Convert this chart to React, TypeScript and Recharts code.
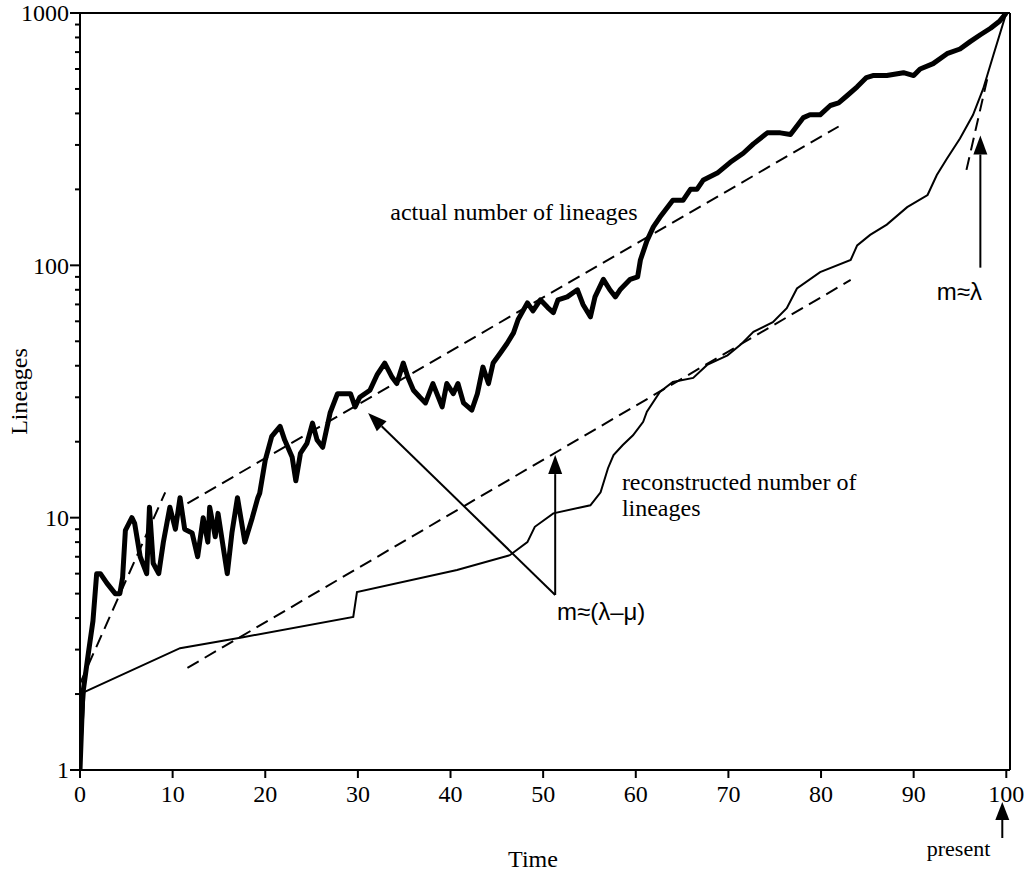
import { ComposedChart, Line, XAxis, YAxis, ReferenceLine, ReferenceDot } from 'recharts';

// Lineages-through-time: simulated tree (actual) vs reconstructed phylogeny.

const actualLineages: [number, number][] = [
  [0, 1], [0.3, 2], [0.9, 2.9], [1.4, 3.9], [1.8, 6], [2.2, 6], [2.9, 5.5], [3.8, 5],
  [4.3, 5], [4.6, 5.8], [4.9, 8.9], [5.6, 10], [5.9, 9.5], [6.5, 7], [7.2, 6], [7.5, 11],
  [7.9, 6.6], [8.5, 6], [9.0, 8], [9.7, 11], [10.3, 9], [10.8, 12], [11.3, 9], [12.1, 8.7],
  [12.7, 7], [13.3, 10], [13.8, 8], [14.0, 11], [14.6, 8.4], [14.9, 10.4], [15.9, 6],
  [16.4, 8.7], [17.0, 12], [17.8, 8], [18.6, 10], [19.2, 12], [19.4, 12.5], [20.0, 16.9],
  [20.7, 21], [21.6, 23], [22.1, 20.3], [22.9, 17.4], [23.3, 14], [23.8, 18], [24.5, 19.7],
  [25.1, 23.7], [25.6, 20.3], [26.2, 19], [27.0, 26], [27.8, 31], [29.2, 31], [29.7, 27.5],
  [30.2, 30], [31.3, 32], [32.1, 37], [32.9, 41], [33.7, 36], [34.2, 34], [34.9, 41],
  [35.4, 36], [36.0, 32], [36.7, 30], [37.3, 28.5], [38.1, 34], [39.1, 27.5], [39.6, 34],
  [40.3, 31], [40.8, 34], [41.4, 28.5], [42.3, 26.7], [42.9, 31], [43.5, 39.5], [44.1, 34],
  [44.6, 41], [45.4, 45], [46.1, 49], [46.8, 54], [47.3, 61], [48.3, 71], [48.9, 66],
  [49.7, 73], [50.5, 68], [51.1, 65], [51.6, 73], [52.6, 75], [53.7, 80], [54.3, 70],
  [55.1, 62.5], [55.6, 75], [56.5, 88], [57.2, 80], [57.8, 75], [58.3, 80], [59.4, 88],
  [60.2, 90], [60.5, 105], [61.2, 125], [61.9, 142], [62.6, 155], [64.0, 181], [65.1, 181],
  [65.9, 200], [66.6, 200], [67.3, 218], [68.8, 232], [70.2, 256], [71.6, 278], [72.7, 303],
  [74.2, 335], [75.6, 335], [76.7, 330], [78.1, 385], [78.8, 395], [79.9, 395], [81.0, 430],
  [81.9, 440], [82.8, 470], [83.9, 510], [84.9, 555], [85.6, 565], [87.1, 565], [88.9, 580],
  [90.0, 565], [90.7, 600], [92.1, 630], [93.6, 690], [95.0, 720], [96.1, 770], [97.2, 820],
  [98.3, 870], [99.3, 930], [100, 1000],
];

const reconstructedLineages: [number, number][] = [
  [0, 1], [0.5, 2.04], [10.8, 3.04], [17.6, 3.36], [29.5, 4.04], [29.9, 5.07], [40.7, 6.2],
  [46.4, 7.1], [48.3, 8], [49.1, 9.2], [51.1, 10.4], [55.1, 11.2], [56.2, 12.6], [57.0, 15.7],
  [57.6, 17.7], [58.6, 19.4], [59.7, 21.2], [60.8, 24], [61.2, 26.3], [62.6, 31.5], [64.0, 34.5],
  [66.2, 35.8], [67.7, 40.3], [69.9, 44], [71.3, 48.4], [72.7, 54.5], [74.8, 59.5], [76.3, 67.6],
  [77.4, 81], [79.9, 94], [83.2, 105], [83.9, 120], [85.3, 132], [87.1, 145], [89.3, 170],
  [91.5, 190], [92.5, 228], [93.6, 265], [95.0, 318], [96.4, 394], [97.5, 500], [98.6, 680],
  [100, 1000],
];

// fitted slopes (dashed)
const fitEarly: [number, number][] = [[0, 2.2], [9.2, 12.6]];
const fitActual: [number, number][] = [[11.6, 11.4], [81.9, 355]];
const fitReconstructed: [number, number][] = [[11.6, 2.54], [83.2, 87.5]];
const fitRecent: [number, number][] = [[95.7, 239], [98.0, 560]];

const xTicks = [0, 10, 20, 30, 40, 50, 60, 70, 80, 90, 100];
const yTicks = [1, 2, 3, 4, 5, 6, 7, 8, 9, 10, 20, 30, 40, 50, 60, 70, 80, 90,
  100, 200, 300, 400, 500, 600, 700, 800, 900, 1000];

const toRows = (pts: [number, number][]) => pts.map(([t, n]) => ({ t, n }));

const SERIF = '"Liberation Serif", "Times New Roman", serif';
const SANS = '"Liberation Sans", Arial, sans-serif';
const INK = '#000';

function YTick(props: any) {
  const { x, y, payload } = props;
  const v = payload.value as number;
  const major = Math.log10(v) % 1 === 0;
  return (
    <g>
      <line x1={x - (major ? 10 : 5)} y1={y} x2={x} y2={y} stroke={INK} strokeWidth={2} />
      {major && (
        <text x={x - 11} y={y} dy="0.35em" textAnchor="end" fontFamily={SERIF} fontSize={24} fill={INK}>
          {v}
        </text>
      )}
    </g>
  );
}

function XTick(props: any) {
  const { x, y, payload } = props;
  const v = payload.value as number;
  return (
    <g>
      <line x1={x} y1={y} x2={x} y2={y + 8} stroke={INK} strokeWidth={2} />
      <text x={x} y={y + 32} textAnchor="middle" fontFamily={SERIF} fontSize={24} fill={INK}>
        {v}
      </text>
      {v === 100 && (
        <g>
          <line x1={x - 4} y1={y + 48} x2={x - 4} y2={y + 68} stroke={INK} strokeWidth={2} />
          <polygon points={`${x - 4},${y + 32} ${x - 11},${y + 50} ${x + 3},${y + 50}`} fill={INK} />
          <text x={x - 16} y={y + 86} textAnchor="end" fontFamily={SERIF} fontSize={22} fill={INK}>
            present
          </text>
        </g>
      )}
    </g>
  );
}

function Arrow(props: any) {
  const { x1, y1, x2, y2 } = props;
  const dx = x2 - x1;
  const dy = y2 - y1;
  const len = Math.hypot(dx, dy) || 1;
  const ux = dx / len;
  const uy = dy / len;
  const head = 19;
  const half = 7;
  const bx = x2 - ux * head;
  const by = y2 - uy * head;
  return (
    <g>
      <line x1={x1} y1={y1} x2={bx} y2={by} stroke={INK} strokeWidth={2} />
      <polygon
        points={`${x2},${y2} ${bx - uy * half},${by + ux * half} ${bx + uy * half},${by - ux * half}`}
        fill={INK}
      />
    </g>
  );
}

function Note({ cx, cy, lines, font }: any) {
  return (
    <text x={cx} y={cy} fontFamily={font} fontSize={24} fill={INK}>
      {lines.map((s: string, i: number) => (
        <tspan key={i} x={cx} dy={i === 0 ? '0.35em' : 26}>{s}</tspan>
      ))}
    </text>
  );
}

export default function App() {
  return (
    <div style={{ position: 'absolute', left: 0, top: 0, width: 1034, height: 872, background: '#fff' }}>
      <ComposedChart width={1034} height={872} margin={{ top: 12, right: 23, bottom: 2, left: 20 }}>
        <XAxis
          dataKey="t"
          type="number"
          domain={[0, 100.4]}
          ticks={xTicks}
          interval={0}
          allowDataOverflow
          height={100}
          tickSize={0}
          tickMargin={0}
          tickLine={false}
          axisLine={{ stroke: INK, strokeWidth: 2 }}
          tick={<XTick />}
          label={{
            content: ({ viewBox }: any) => (
              <text x={viewBox.x + viewBox.width / 2 - 12} y={viewBox.y + 97} textAnchor="middle"
                fontFamily={SERIF} fontSize={24} fill={INK}>Time</text>
            ),
          }}
        />
        <YAxis
          dataKey="n"
          type="number"
          scale="log"
          domain={[1, 1000]}
          ticks={yTicks}
          interval={0}
          allowDataOverflow
          width={60}
          tickSize={0}
          tickMargin={0}
          tickLine={false}
          axisLine={{ stroke: INK, strokeWidth: 2 }}
          tick={<YTick />}
          label={{
            content: ({ viewBox }: any) => {
              const cx = viewBox.x - 1;
              const cy = viewBox.y + viewBox.height / 2;
              return (
                <text x={cx} y={cy} dy="0.35em" textAnchor="middle" transform={`rotate(-90, ${cx}, ${cy})`}
                  fontFamily={SERIF} fontSize={24} fill={INK}>Lineages</text>
              );
            },
          }}
        />
        <XAxis xAxisId="top" orientation="top" type="number" domain={[0, 1]} height={1}
          tick={false} tickLine={false} axisLine={{ stroke: INK, strokeWidth: 2 }} />
        <YAxis yAxisId="right" orientation="right" type="number" domain={[0, 1]} width={1}
          tick={false} tickLine={false} axisLine={{ stroke: INK, strokeWidth: 2 }} />

        {[fitEarly, fitActual, fitReconstructed, fitRecent].map((f, i) => (
          <Line key={`fit${i}`} data={toRows(f)} dataKey="n" type="linear" stroke={INK} strokeWidth={2}
            strokeDasharray="13 7" dot={false} activeDot={false} isAnimationActive={false} />
        ))}
        <Line data={toRows(reconstructedLineages)} dataKey="n" type="linear" stroke={INK} strokeWidth={2}
          dot={false} activeDot={false} isAnimationActive={false} />
        <Line data={toRows(actualLineages)} dataKey="n" type="linear" stroke={INK} strokeWidth={5}
          strokeLinejoin="round" dot={false} activeDot={false} isAnimationActive={false} />

        <ReferenceLine segment={[{ x: 51.3, y: 4.94 }, { x: 31.1, y: 26 }]} shape={(p: any) => <Arrow {...p} />} />
        <ReferenceLine segment={[{ x: 51.3, y: 4.94 }, { x: 51.3, y: 17.7 }]} shape={(p: any) => <Arrow {...p} />} />
        <ReferenceLine segment={[{ x: 97.2, y: 97.9 }, { x: 97.2, y: 327 }]} shape={(p: any) => <Arrow {...p} />} />

        <ReferenceDot x={33.5} y={163} r={0}
          shape={(p: any) => <Note cx={p.cx} cy={p.cy} font={SERIF} lines={['actual number of lineages']} />} />
        <ReferenceDot x={58.5} y={13.9} r={0}
          shape={(p: any) => <Note cx={p.cx} cy={p.cy} font={SERIF} lines={['reconstructed number of', 'lineages']} />} />
        <ReferenceDot x={51.5} y={4.23} r={0}
          shape={(p: any) => <Note cx={p.cx} cy={p.cy} font={SANS} lines={['m≈(λ–μ)']} />} />
        <ReferenceDot x={92.5} y={78.4} r={0}
          shape={(p: any) => <Note cx={p.cx} cy={p.cy} font={SANS} lines={['m≈λ']} />} />
      </ComposedChart>
    </div>
  );
}
